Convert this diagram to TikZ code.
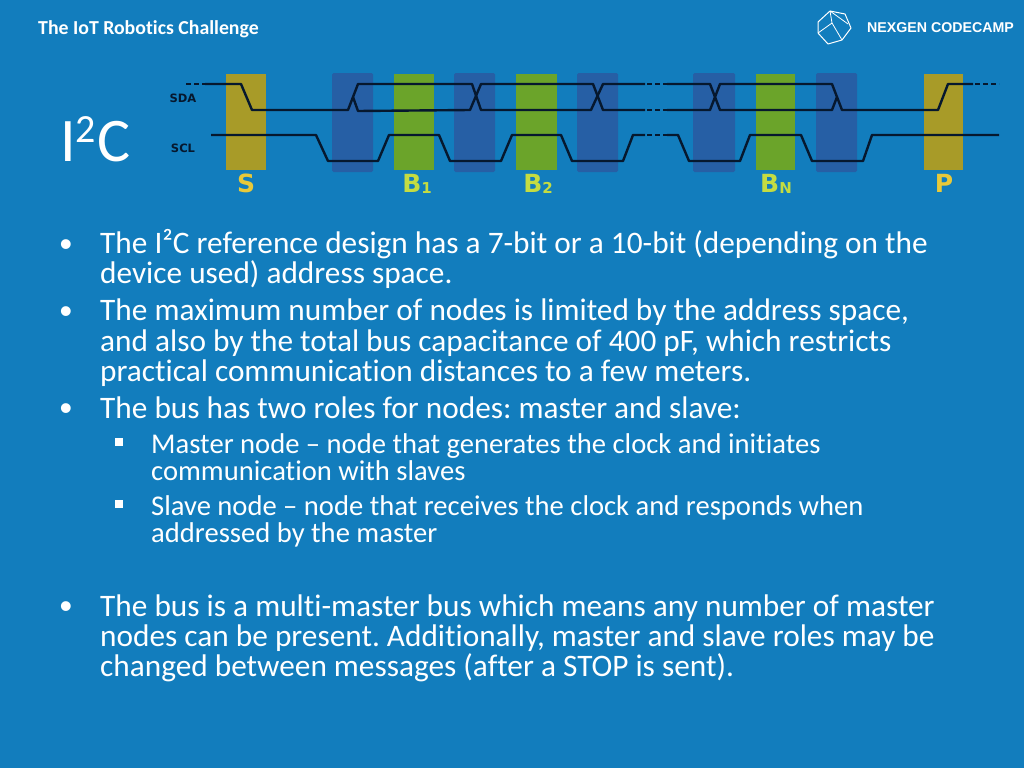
\documentclass[tikz,border=0pt]{standalone}
\usepackage{fontspec}
\setmainfont{Carlito}[Ligatures=NoCommon]
\newfontfamily\arialf{Liberation Sans}
\newfontfamily\dejaf{DejaVu Sans}
\frenchspacing
\definecolor{bgc}{HTML}{127DBD}
\definecolor{yelbar}{HTML}{A89B28}
\definecolor{blubar}{HTML}{265FA5}
\definecolor{grnbar}{HTML}{6BA42A}
\definecolor{wire}{HTML}{06182E}
\definecolor{labS}{HTML}{E8C93A}
\definecolor{labB}{HTML}{C4DC42}
\tikzset{
 x=1pt,y=-1pt,
 lineA/.style={anchor=base west,inner sep=0pt,text=white,font=\fontsize{31.3}{33}\selectfont},
 lineB/.style={anchor=base west,inner sep=0pt,text=white,font=\fontsize{28.6}{30}\selectfont},
 bul/.style={anchor=base,inner sep=0pt,text=white,font=\arialf\fontsize{36}{38}\selectfont},
 bulB/.style={fill=white,minimum size=8pt,inner sep=0pt,draw=none,rectangle},
 ybar/.style={fill=yelbar,draw=none},
 gbar/.style={fill=grnbar,draw=none},
 bbar/.style={fill=blubar,draw=none,rounded corners=1.5pt},
 wirel/.style={draw=wire,line width=2.4pt,line join=round},
 wired/.style={draw=wire,line width=2.4pt,dash pattern=on 5pt off 3pt},
 siglab/.style={anchor=base,inner sep=0pt,text=wire,font=\dejaf\bfseries\fontsize{11.5}{12}\selectfont},
 barY/.style={anchor=base,inner sep=0pt,text=labS,font=\dejaf\bfseries\fontsize{25}{26}\selectfont},
 barB/.style={anchor=base,inner sep=0pt,text=labB,font=\dejaf\bfseries\fontsize{25}{26}\selectfont},
}
\begin{document}
\begin{tikzpicture}
\useasboundingbox (0,0) rectangle (1024,768);
\fill[bgc] (0,0) rectangle (1024,768);
% header
\node[anchor=base west,inner sep=0pt,text=white,font=\bfseries\fontsize{19.8}{22}\selectfont] (hdr) at (38,35) {The IoT Robotics Challenge};
\node[anchor=base west,inner sep=0pt,text=white,font=\arialf\bfseries\fontsize{14.2}{16}\selectfont] (brand) at (867,33) {NEXGEN CODECAMP};
\draw[white,line width=1pt,line join=round] (830,11) -- (845,14) -- (851,28) -- (842,40) -- (828,44) -- (818,33) -- (818,22) -- cycle;
\draw[white,line width=0.8pt] (830,11) -- (832,23) -- (842,40) (832,23) -- (818,33) (830,11) -- (848,24);
% title
\node[anchor=base west,inner sep=0pt,text=white,font=\fontsize{62}{64}\selectfont] (title) at (60,161) {I\raisebox{19pt}{\fontsize{40}{42}\selectfont 2}\kern1pt C};
% bars
\fill[ybar] (226,74) rectangle (266,170);
\fill[bbar] (332,73) rectangle (373,172);
\fill[gbar] (394,74) rectangle (434,170);
\fill[bbar] (454,73) rectangle (495,172);
\fill[gbar] (516,74) rectangle (557,170);
\fill[bbar] (577,73) rectangle (618,172);
\fill[bbar] (693,73) rectangle (735,172);
\fill[gbar] (756,74) rectangle (795,170);
\fill[bbar] (816,73) rectangle (857,172);
\fill[ybar] (924,74) rectangle (963,170);
% labels
\node[siglab] (sda) at (183,102) {SDA};
\node[siglab] (scl) at (183,152) {SCL};
\node[barY] (s) at (246,192) {S};
\node[barB] (b1) at (417,192) {B\raisebox{-1pt}{\fontsize{15}{16}\selectfont 1}};
\node[barB] (b2) at (538,192) {B\raisebox{-1pt}{\fontsize{15}{16}\selectfont 2}};
\node[barB] (bn) at (776,192) {B\raisebox{-1pt}{\fontsize{15}{16}\selectfont N}};
\node[barY] (p) at (944,192) {P};
% SDA
\draw[wired] (186,84) -- (205,84);
\draw[wirel] (205,84) -- (241,84) -- (252,110) -- (348,110) -- (358,84) -- (472,84) -- (481,110) -- (591,110) -- (603,84) -- (645,84);
\draw[wirel] (353,97) -- (358,111) -- (470,110) -- (481,84) -- (593,84) -- (603,110) -- (645,110);
\draw[wired] (647,84) -- (667,84);
\draw[wired] (647,110) -- (667,110);
\draw[wirel] (667,84) -- (710,84) -- (720,110) -- (832,110) -- (837,97);
\draw[wirel] (667,110) -- (710,110) -- (720,84) -- (832,84) -- (842,110) -- (938,110) -- (948,84) -- (973,84);
\draw[wired] (975,84) -- (999,84);
% SCL
\draw[wirel] (211,135) -- (316,135) -- (328,161) -- (378,161) -- (389,135) -- (439,135) -- (450,161) -- (501,161) -- (512,135) -- (561,135) -- (572,161) -- (623,161) -- (633,135) -- (645,135);
\draw[wired] (647,135) -- (667,135);
\draw[wirel] (667,135) -- (678,135) -- (689,161) -- (740,161) -- (750,135) -- (801,135) -- (812,161) -- (863,161) -- (872,135) -- (999,135);
% body
\node[bul] (b01) at (66,256) {•};
\node[lineA] (t01) at (100,253) {The I²C reference design has a 7-bit or a 10-bit (depending on the};
\node[lineA] (t02) at (100,283) {device used) address space.};
\node[bul] (b02) at (66,323) {•};
\node[lineA] (t03) at (100,320) {The maximum number of nodes is limited by the address space,};
\node[lineA] (t04) at (100,351) {and also by the total bus capacitance of 400 pF, which restricts};
\node[lineA] (t05) at (100,381) {practical communication distances to a few meters.};
\node[bul] (b03) at (66,420) {•};
\node[lineA] (t06) at (100,418) {The bus has two roles for nodes: master and slave:};
\node[bulB] (b04) at (119,442) {};
\node[lineB] (t07) at (151,453) {Master node – node that generates the clock and initiates};
\node[lineB] (t08) at (151,480) {communication with slaves};
\node[bulB] (b05) at (119,504) {};
\node[lineB] (t09) at (151,515) {Slave node – node that receives the clock and responds when};
\node[lineB] (t10) at (151,542) {addressed by the master};
\node[bul] (b06) at (66,618) {•};
\node[lineA] (t11) at (100,616) {The bus is a multi-master bus which means any number of master};
\node[lineA] (t12) at (100,646) {nodes can be present. Additionally, master and slave roles may be};
\node[lineA] (t13) at (100,676) {changed between messages (after a STOP is sent).};
\end{tikzpicture}
\end{document}
